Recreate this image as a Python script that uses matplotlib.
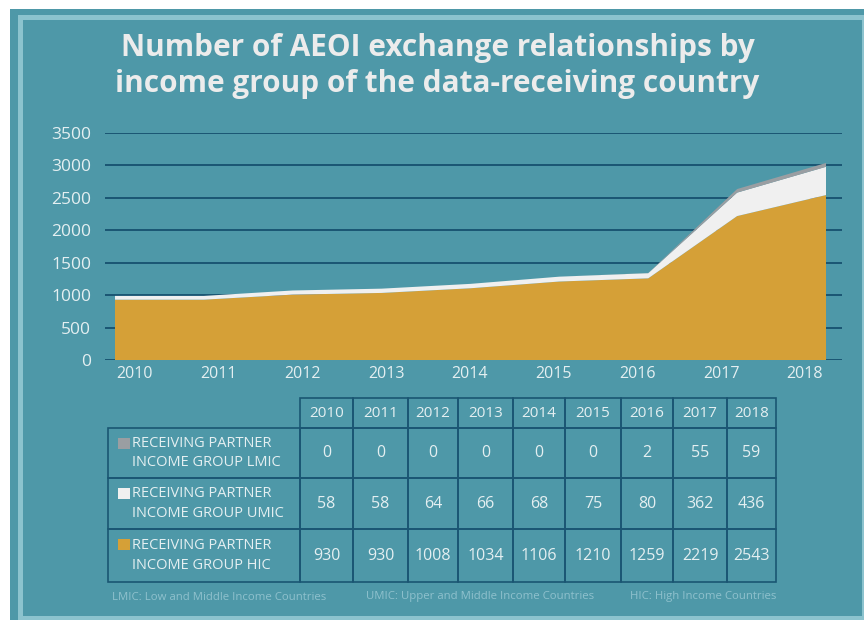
import matplotlib.pyplot as plt
import matplotlib as mpl
from matplotlib.patches import Rectangle
from matplotlib.table import Table

mpl.rcParams.update({
    'font.family': ['Open Sans', 'DejaVu Sans'],
    'font.size': 11,
})

# data
years = ['2010', '2011', '2012', '2013', '2014', '2015', '2016', '2017', '2018']
lmic = [0, 0, 0, 0, 0, 0, 2, 55, 59]
umic = [58, 58, 64, 66, 68, 75, 80, 362, 436]
hic = [930, 930, 1008, 1034, 1106, 1210, 1259, 2219, 2543]
row_labels = ['RECEIVING PARTNER\nINCOME GROUP LMIC',
              'RECEIVING PARTNER\nINCOME GROUP UMIC',
              'RECEIVING PARTNER\nINCOME GROUP HIC']
yticks = [0, 500, 1000, 1500, 2000, 2500, 3000, 3500]
title = 'Number of AEOI exchange relationships by\nincome group of the data-receiving country'
notes = ['LMIC: Low and Middle Income Countries',
         'UMIC: Upper and Middle Income Countries',
         'HIC: High Income Countries']

teal = '#4e98a8'
frame = '#8cc3ce'
gridc = '#1a5673'
light = '#e4eff1'
note_c = '#8fc1cd'
c_hic = '#d5a037'
c_umic = '#f0f0f0'
c_lmic = '#9a9ea2'

W, H = 864, 620


def fx(px):
    return px / W


def fy(py):
    return 1 - py / H


fig = plt.figure(figsize=(W / 100, H / 100), dpi=100, facecolor='white')

# background panel + light frame
fig.patches.append(Rectangle((fx(10), 0), 1 - fx(10), fy(9), transform=fig.transFigure,
                             facecolor=teal, edgecolor='none', zorder=-5))
fig.patches.append(Rectangle((fx(19.5), fy(618)), fx(863.5) - fx(19.5), fy(16.5) - fy(618),
                             transform=fig.transFigure, fill=False, edgecolor=frame,
                             linewidth=3.6, zorder=-4))

fig.text(fx(437.5), fy(66), title, ha='center', va='center', color='#ececec',
         fontsize=21.4, fontweight='bold', linespacing=1.3)

# area chart
ax = fig.add_axes([fx(105), fy(360), fx(842) - fx(105), fy(133) - fy(360)])
ax.patch.set_visible(False)
x = list(range(len(years)))
ax.stackplot(x, hic, umic, lmic, colors=[c_hic, c_umic, c_lmic], linewidth=0, zorder=3)
step = 88.875  # px per year
ax.set_xlim(-10 / step, 8 + 16 / step)
ax.set_ylim(0, 3500)
ax.set_yticks(yticks)
ax.set_xticks([0.225 + 0.9423 * i for i in x])
ax.set_xticklabels(years)
ax.yaxis.grid(True, color=gridc, linewidth=1.4)
ax.set_axisbelow(True)
ax.tick_params(axis='both', length=0, colors=light)
ax.tick_params(axis='y', pad=10, labelsize=12.5)
ax.tick_params(axis='x', pad=4, labelsize=11.5)
for s in ax.spines.values():
    s.set_visible(False)

# data table
tax = fig.add_axes([fx(108), fy(582), fx(776) - fx(108), fy(398) - fy(582)])
tax.axis('off')
col_w = [192, 53, 55, 50, 55, 52, 56, 52, 54, 49]
row_h = [30, 50, 51, 53]
tbl = Table(tax, bbox=[0, 0, 1, 1])
rows = [[''] + years]
for lab, vals in zip(row_labels, [lmic, umic, hic]):
    rows.append([lab] + [str(v) for v in vals])
for r, row in enumerate(rows):
    for c, txt in enumerate(row):
        cell = tbl.add_cell(r, c, width=col_w[c] / 668, height=row_h[r] / 184,
                            text=txt, loc='left' if c == 0 else 'center',
                            facecolor='none', edgecolor=gridc)
        cell.set_linewidth(1.2)
        cell.get_text().set_color(light)
        cell.get_text().set_fontsize(11 if r == 0 else 11.5)
        if c == 0:
            cell.PAD = 0.125
            cell.get_text().set_fontsize(10.5)
            cell.get_text().set_linespacing(1.45)
tbl[0, 0].set_visible(False)
tbl.auto_set_font_size(False)
tax.add_table(tbl)

# legend squares next to row labels
sq_cols = [c_lmic, c_umic, c_hic]
for i, col in enumerate(sq_cols):
    y0 = sum(row_h[:i + 1]) + 10
    tax.add_patch(Rectangle((10 / 668, 1 - (y0 + 11) / 184), 12 / 668, 11 / 184,
                            transform=tax.transAxes, facecolor=col, edgecolor='none',
                            clip_on=False, zorder=5))

for xp, txt in zip([112, 366, 630], notes):
    fig.text(fx(xp), fy(597), txt, ha='left', va='center', color=note_c, fontsize=8.2)

plt.savefig('out.png', dpi=100, facecolor=fig.get_facecolor())
plt.close()
